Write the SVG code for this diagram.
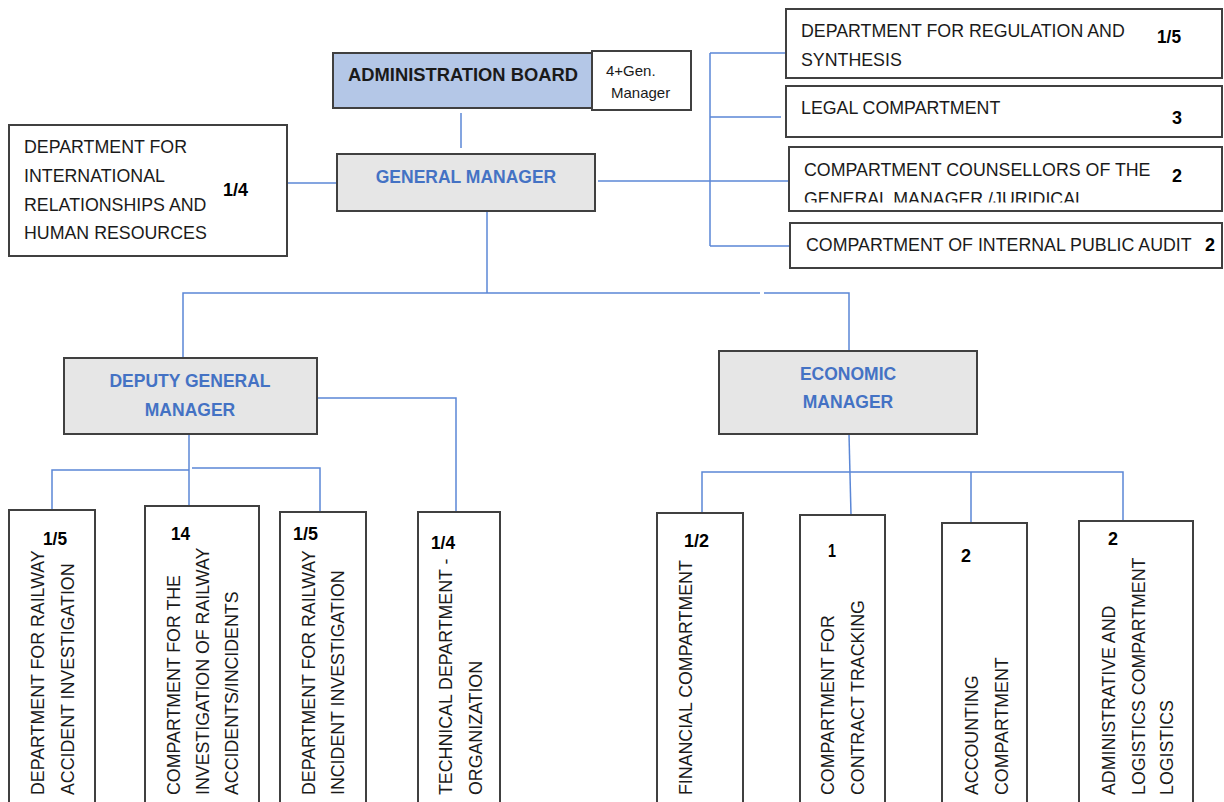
<svg xmlns="http://www.w3.org/2000/svg" width="1224" height="802" viewBox="0 0 1224 802">
<style>
.box{fill:#fff;stroke:#404040;stroke-width:2}
.gray{fill:#e6e6e6;stroke:#404040;stroke-width:2}
.blue{fill:#b4c7e7;stroke:#404040;stroke-width:2}
.t{font-family:"Liberation Sans",Arial,sans-serif;font-size:17.8px;fill:#1a1a1a}
.n{font-family:"Liberation Sans",Arial,sans-serif;font-size:19px;font-weight:bold;fill:#000}
.h{font-family:"Liberation Sans",Arial,sans-serif;font-size:17.5px;font-weight:bold;fill:#4472c4;text-anchor:middle}
.s{font-family:"Liberation Sans",Arial,sans-serif;font-size:15px;fill:#1a1a1a}
.c{fill:none;stroke:#5b87d6;stroke-width:1.5}
</style>
<defs>
<clipPath id="clip3"><rect x="789" y="147" width="433" height="55.5"/></clipPath>
</defs>
<rect width="1224" height="802" fill="#fff"/>
<g id="connectors">
<path class="c" d="M461 113V148"/>
<path class="c" d="M287 183H337"/>
<path class="c" d="M598 181H788"/>
<path class="c" d="M710 53V246M710 53H786M710 117H781M710 246H790"/>
<path class="c" d="M487 211V293"/>
<path class="c" d="M183 358V293H760M764 293H849V351"/>
<path class="c" d="M318 398H456V513"/>
<path class="c" d="M189 434V507"/>
<path class="c" d="M189 470H52V509"/>
<path class="c" d="M192 468H320V511"/>
<path class="c" d="M849 434L851 515"/>
<path class="c" d="M702 512V472H1123V520M971 472V523"/>
</g>
<g id="admin-board">
<rect class="blue" x="333" y="53" width="259" height="55"/>
<text class="t" x="463" y="81" text-anchor="middle" font-weight="bold" fill="#111" textLength="230" lengthAdjust="spacingAndGlyphs">ADMINISTRATION BOARD</text>
<rect class="box" x="592" y="51" width="99" height="59"/>
<text class="s" x="606" y="76">4+Gen.</text>
<text class="s" x="611" y="98">Manager</text>
</g>
<g id="general-manager">
<rect class="gray" x="337" y="154" width="258" height="57"/>
<text class="h" x="466" y="183">GENERAL MANAGER</text>
</g>
<g id="intl-relations">
<rect class="box" x="9" y="125" width="278" height="131"/>
<text class="t" x="24" y="153">DEPARTMENT FOR</text>
<text class="t" x="24" y="182">INTERNATIONAL</text>
<text class="t" x="24" y="211">RELATIONSHIPS AND</text>
<text class="t" x="24" y="239">HUMAN RESOURCES</text>
<text class="n" x="223" y="196" textLength="25" lengthAdjust="spacingAndGlyphs">1/4</text>
</g>
<g id="regulation">
<rect class="box" x="786" y="9" width="436" height="69"/>
<text class="t" x="801" y="37">DEPARTMENT FOR REGULATION AND</text>
<text class="t" x="801" y="66">SYNTHESIS</text>
<text class="n" x="1157" y="43" textLength="24" lengthAdjust="spacingAndGlyphs">1/5</text>
</g>
<g id="legal">
<rect class="box" x="786" y="86" width="436" height="51"/>
<text class="t" x="801" y="114">LEGAL COMPARTMENT</text>
<text class="n" x="1172" y="124" textLength="10" lengthAdjust="spacingAndGlyphs">3</text>
</g>
<g id="counsellors">
<rect class="box" x="789" y="147" width="433" height="64"/>
<text class="t" x="804" y="176">COMPARTMENT COUNSELLORS OF THE</text>
<text class="t" x="804" y="205" clip-path="url(#clip3)">GENERAL MANAGER /JURIDICAL</text>
<text class="n" x="1172" y="182" textLength="10" lengthAdjust="spacingAndGlyphs">2</text>
</g>
<g id="audit">
<rect class="box" x="790" y="223" width="432" height="45"/>
<text class="t" x="806" y="251">COMPARTMENT OF INTERNAL PUBLIC AUDIT</text>
<text class="n" x="1205" y="251" textLength="10" lengthAdjust="spacingAndGlyphs">2</text>
</g>
<g id="deputy">
<rect class="gray" x="64" y="358" width="253" height="76"/>
<text class="h" x="190" y="387">DEPUTY GENERAL</text>
<text class="h" x="190" y="416">MANAGER</text>
</g>
<g id="economic">
<rect class="gray" x="719" y="351" width="258" height="83"/>
<text class="h" x="848" y="380">ECONOMIC</text>
<text class="h" x="848" y="408">MANAGER</text>
</g>
<g id="accident">
<rect class="box" x="9" y="510" width="86" height="300"/>
<text class="n" x="43" y="545" textLength="24" lengthAdjust="spacingAndGlyphs">1/5</text>
<text class="t" transform="translate(44 795) rotate(-90)">DEPARTMENT FOR RAILWAY</text>
<text class="t" transform="translate(74 795) rotate(-90)">ACCIDENT INVESTIGATION</text>
</g>
<g id="investigation">
<rect class="box" x="145" y="506" width="114" height="304"/>
<text class="n" x="171" y="540" textLength="19" lengthAdjust="spacingAndGlyphs">14</text>
<text class="t" transform="translate(180 795) rotate(-90)">COMPARTMENT FOR THE</text>
<text class="t" transform="translate(209 795) rotate(-90)">INVESTIGATION OF RAILWAY</text>
<text class="t" transform="translate(238 795) rotate(-90)">ACCIDENTS/INCIDENTS</text>
</g>
<g id="incident">
<rect class="box" x="280" y="512" width="86" height="298"/>
<text class="n" x="293" y="540" textLength="25" lengthAdjust="spacingAndGlyphs">1/5</text>
<text class="t" transform="translate(315 795) rotate(-90)">DEPARTMENT FOR RAILWAY</text>
<text class="t" transform="translate(344 795) rotate(-90)">INCIDENT INVESTIGATION</text>
</g>
<g id="technical">
<rect class="box" x="418" y="512" width="82" height="298"/>
<text class="n" x="431" y="549" textLength="24" lengthAdjust="spacingAndGlyphs">1/4</text>
<text class="t" transform="translate(452 795) rotate(-90)">TECHNICAL DEPARTMENT -</text>
<text class="t" transform="translate(482 795) rotate(-90)">ORGANIZATION</text>
</g>
<g id="financial">
<rect class="box" x="657" y="513" width="86" height="297"/>
<text class="n" x="684" y="547" textLength="25" lengthAdjust="spacingAndGlyphs">1/2</text>
<text class="t" transform="translate(692 795) rotate(-90)">FINANCIAL COMPARTMENT</text>
</g>
<g id="contract">
<rect class="box" x="800" y="515" width="85" height="295"/>
<text class="n" x="828" y="557" textLength="8" lengthAdjust="spacingAndGlyphs">1</text>
<text class="t" transform="translate(834 795) rotate(-90)">COMPARTMENT FOR</text>
<text class="t" transform="translate(864 795) rotate(-90)">CONTRACT TRACKING</text>
</g>
<g id="accounting">
<rect class="box" x="942" y="523" width="85" height="287"/>
<text class="n" x="961" y="562" textLength="10" lengthAdjust="spacingAndGlyphs">2</text>
<text class="t" transform="translate(978 795) rotate(-90)">ACCOUNTING</text>
<text class="t" transform="translate(1008 795) rotate(-90)">COMPARTMENT</text>
</g>
<g id="admin-logistics">
<rect class="box" x="1079" y="521" width="114" height="289"/>
<text class="n" x="1108" y="545" textLength="10" lengthAdjust="spacingAndGlyphs">2</text>
<text class="t" transform="translate(1115 795) rotate(-90)">ADMINISTRATIVE AND</text>
<text class="t" transform="translate(1145 795) rotate(-90)">LOGISTICS COMPARTMENT</text>
<text class="t" transform="translate(1173 795) rotate(-90)">LOGISTICS</text>
</g>
</svg>
